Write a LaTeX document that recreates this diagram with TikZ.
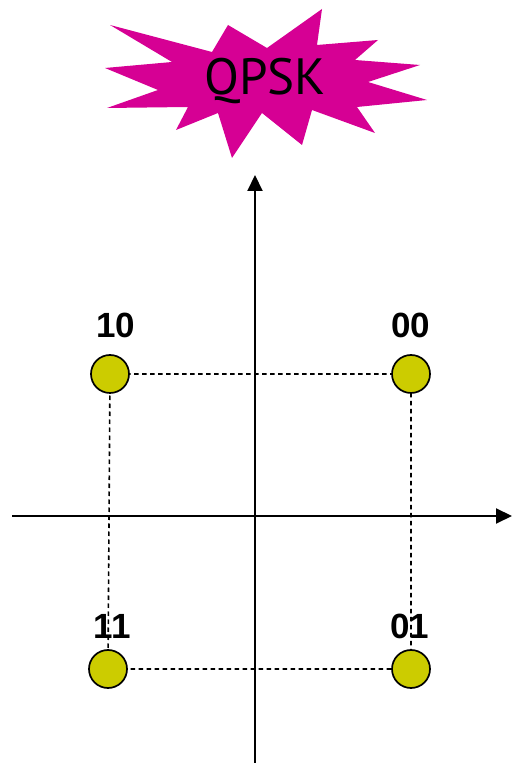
\documentclass[tikz,border=0pt]{standalone}
\usepackage{fontspec}
\setmainfont{Liberation Sans}
\newfontfamily\burstfont{PT Sans}
\usetikzlibrary{arrows.meta,positioning}
\definecolor{burstpink}{RGB}{214,0,148}
\definecolor{pointyellow}{RGB}{204,204,0}

\begin{document}
\begin{tikzpicture}[x=1pt,y=1pt,
  axis/.style={line width=2pt,-{Triangle[length=16pt,width=15pt]}},
  guide/.style={line width=1.6pt,dash pattern=on 4.5pt off 3.5pt},
  point/.style={circle,draw=black,line width=1.7pt,fill=pointyellow,minimum size=38pt,inner sep=0pt},
  bits/.style={font=\fontsize{35}{40}\selectfont\bfseries,inner sep=0pt,anchor=base},
  title/.style={font=\burstfont\fontsize{51}{56}\selectfont,inner sep=0pt}
]
\useasboundingbox (0,0) rectangle (512,763);
% starburst
\fill[burstpink] (110,738) -- (212,711) -- (228,738) -- (267,715) -- (322,754) -- (317,718)
  -- (378,723) -- (355,703) -- (420,698) -- (368,681) -- (427,663) -- (357,656)
  -- (375,630) -- (312,653) -- (302,618) -- (262,650) -- (232,605) -- (218,650)
  -- (176,633) -- (188,656) -- (107,655) -- (158,673) -- (105,695) -- (172,701) -- cycle;
\node[title] (qpsk) at (265,682) {QPSK};
% axes
\coordinate (xl) at (12,247);
\coordinate (xr) at (512,247);
\coordinate (yb) at (255,0);
\coordinate (yt) at (255,588);
\draw[axis] (xl) -- (xr);
\draw[axis] (yb) -- (yt);
% labels
\node[bits] (l10) at (116,425) {10};
\node[bits] (l00) at (411,425) {00};
\node[bits] (l11) at (112,124) {11};
\node[bits] (l01) at (410,124) {01};
% constellation
\coordinate (c10) at (110,389);
\coordinate (c00) at (411,389);
\coordinate (c11) at (108,94);
\coordinate (c01) at (411,94);
\draw[guide] (c10) -- (c00) -- (c01) -- (c11) -- cycle;
\node[point] (p10) at (c10) {};
\node[point] (p00) at (c00) {};
\node[point] (p11) at (c11) {};
\node[point] (p01) at (c01) {};
\end{tikzpicture}
\end{document}
